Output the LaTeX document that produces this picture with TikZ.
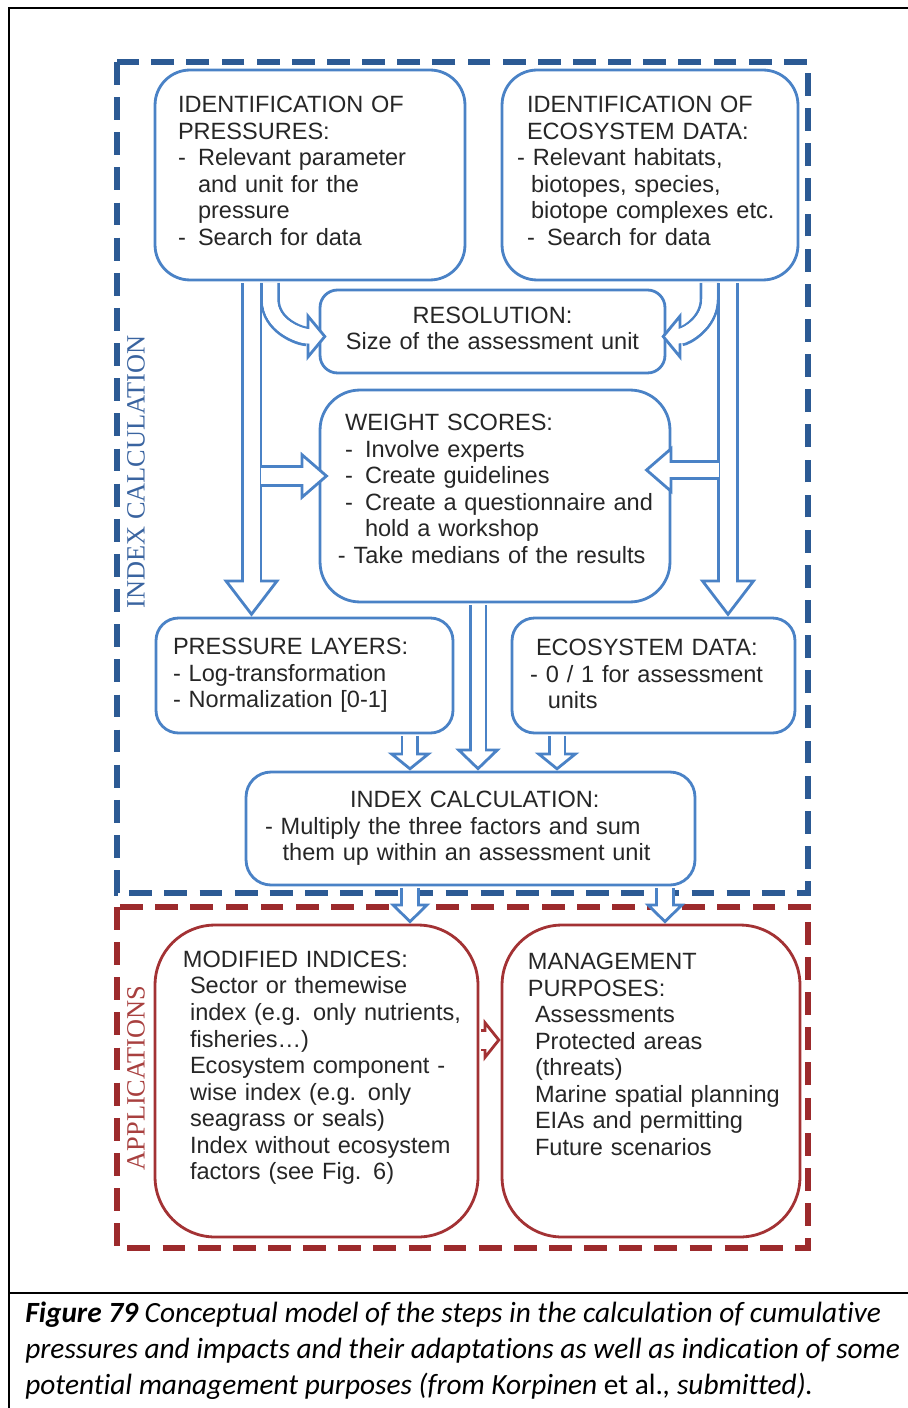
\documentclass[tikz,border=0pt]{standalone}
\usepackage{fontspec}
\setmainfont{Liberation Sans}
\newfontfamily\labfont{Liberation Serif}
\newfontfamily\capfont[Ligatures=NoCommon]{Carlito}
\usetikzlibrary{arrows.meta}

\definecolor{boxblue}{HTML}{4A82C6}
\definecolor{frameblue}{HTML}{2C5A94}
\definecolor{boxred}{HTML}{A33234}
\definecolor{framered}{HTML}{9C2A2C}
\definecolor{labblue}{HTML}{3A64A0}
\definecolor{labred}{HTML}{A8403F}

\newcommand{\dsh}{\makebox[0.85em][l]{-}}
\newcommand{\ind}{\hspace*{0.85em}}
\newcommand{\lsk}[1]{\leftskip=#1\relax}
\newcommand{\bsp}[1]{\par\kern#1\relax}

\begin{document}
\begin{tikzpicture}[
        x=0.02cm, y=-0.02cm,
        bx/.style={draw=boxblue, line width=1.6pt, rounded corners=#1, fill=white,
            align=left, inner xsep=0.15cm, text=black!85,
            font=\fontsize{13.4pt}{15.1pt}\selectfont},
        rbx/.style={bx=#1, draw=boxred},
        dashbox/.style={line width=3pt, dash pattern=on 13pt off 7pt},
        harrow/.style n args={3}{draw=boxblue, line width=1.6pt, double=white,
            double distance=#1, shorten <=0.8pt,
            -{Triangle[fill=white, line width=1.6pt, width=#2, length=#3]},
            postaction={draw=white, double=white, line width=0pt, -, shorten >=#3-2.5pt}},
        lab/.style={rotate=90, font=\labfont\fontsize{15pt}{15pt}\selectfont}
    ]
    \useasboundingbox (0,0) rectangle (908,1408);
    % page frame and caption
    \draw[line width=1.6pt] (9,1408) -- (9,8) -- (908,8);
    \draw[line width=1.6pt] (9,1293) -- (908,1293);
    \node[anchor=north west, inner sep=0, align=left,
        font=\capfont\itshape\fontsize{16.7pt}{20.5pt}\selectfont] (capt) at (25,1302)
        {\textbf{Figure 79} Conceptual model of the steps in the calculation of cumulative\\
        pressures and impacts and their adaptations as well as indication of some\\
        potential management purposes (from Korpinen {\upshape et al.}, submitted).};

    % the two groups
    \draw[dashbox, frameblue] (117,62) rectangle (808,893);
    \draw[dashbox, framered] (117,907) rectangle (808,1248);
    \node[lab, text=labblue] (labic) at (136,472) {INDEX CALCULATION};
    \node[lab, text=labred] (labap) at (136,1078) {APPLICATIONS};

    % boxes
    \node[bx=0.7cm, text width=5.9cm, minimum height=4.2cm] (idp) at (310,175)
        {\lsk{0.31cm}IDENTIFICATION OF\\ PRESSURES:\\ \dsh Relevant parameter\\
        \ind and unit for the\\ \ind pressure\\ \dsh Search for data\bsp{0.16cm}};
    \node[bx=0.7cm, text width=5.62cm, minimum height=4.2cm] (ide) at (650,175)
        {\lsk{0.35cm}IDENTIFICATION OF\\ ECOSYSTEM DATA:\\
        \hspace*{-0.42em}- Relevant habitats,\\ \hspace*{0.17em}biotopes, species,\\
        \hspace*{0.17em}biotope complexes etc.\\ \dsh Search for data\bsp{0.16cm}};
    \node[bx=0.35cm, text width=6.6cm, minimum height=1.66cm, align=center] (res) at (492.5,331.5)
        {RESOLUTION:\\ Size of the assessment unit\bsp{0.12cm}};
    \node[bx=0.8cm, text width=6.7cm, minimum height=4.24cm] (ws) at (495,496)
        {\lsk{0.35cm}WEIGHT SCORES:\\ \dsh Involve experts\\ \dsh Create guidelines\\
        \dsh Create a questionnaire and\\ \ind hold a workshop\\
        \hspace*{-0.3em}- Take medians of the results\bsp{0.28cm}};
    \node[bx=0.45cm, text width=5.64cm, minimum height=2.3cm] (pl) at (304.5,675.5)
        {\lsk{0.19cm}PRESSURE LAYERS:\\ - Log-transformation\\ - Normalization [0-1]\par};
    \node[bx=0.45cm, text width=5.36cm, minimum height=2.3cm] (ed) at (653.5,675.5)
        {\lsk{0.33cm}ECOSYSTEM DATA:\\ \hspace*{-0.25em}- 0 / 1 for assessment\\
        \hspace*{0.5em}units\bsp{0.05cm}};
    \node[bx=0.5cm, text width=8.68cm, minimum height=2.26cm] (ic) at (470.5,828.5)
        {\lsk{0.23cm}\hspace*{1.7cm}INDEX CALCULATION:\\
        - Multiply the three factors and sum\\
        \hspace*{0.75em}them up within an assessment unit\par};
    \node[rbx=1.2cm, text width=6.16cm, minimum height=6.24cm] (mi) at (316.5,1081)
        {\lsk{0.55cm}\hspace*{-0.3em}MODIFIED INDICES:\\ Sector or themewise\\
        index (e.g. only nutrients,\\ fisheries\dots)\\ Ecosystem component -\\
        wise index (e.g. only\\ seagrass or seals)\\ Index without ecosystem\\
        factors (see Fig. 6)\bsp{0.53cm}};
    \node[rbx=1.2cm, text width=5.66cm, minimum height=6.24cm] (mp) at (651,1081)
        {\lsk{0.51cm}\hspace*{-0.3em}MANAGEMENT\\ \hspace*{-0.3em}PURPOSES:\\ Assessments\\
        Protected areas\\ (threats)\\ Marine spatial planning\\ EIAs and permitting\\
        Future scenarios\bsp{1.06cm}};

    % arrows
    \draw[harrow={0.28cm}{0.96cm}{0.4cm}] ([xshift=-0.8cm]idp.south) -- ++(0,18)
        to[out=-90, in=180] ([xshift=0.16cm, yshift=-0.1cm]res.west);
    \draw[harrow={0.28cm}{0.96cm}{0.4cm}] ([xshift=1.19cm]ide.south) -- ++(0,18)
        to[out=-90, in=0] ([xshift=-0.1cm, yshift=-0.1cm]res.east);
    \draw[harrow={0.32cm}{1.12cm}{0.74cm}] ([xshift=-1.17cm]idp.south)
        -- ([xshift=-1.17cm]idp.south |- pl.north);
    \draw[harrow={0.32cm}{1.12cm}{0.74cm}] ([xshift=1.56cm]ide.south)
        -- ([xshift=1.56cm]ide.south |- ed.north);
    \coordinate (lbr) at (259.5,476);
    \coordinate (rbr) at (720,470);
    \draw[harrow={0.32cm}{0.96cm}{0.56cm}] (lbr) -- ([xshift=0.2cm]ws.west |- lbr);
    \draw[harrow={0.3cm}{0.96cm}{0.56cm}] (rbr) -- ([xshift=-0.54cm]ws.east |- rbr);
    \draw[harrow={0.26cm}{0.88cm}{0.36cm}] ([xshift=2.11cm]pl.south)
        -- ([xshift=2.11cm]pl.south |- ic.north);
    \draw[harrow={0.26cm}{0.9cm}{0.44cm}] ([xshift=-0.34cm]ws.south)
        -- ([xshift=-0.34cm]ws.south |- ic.north);
    \draw[harrow={0.26cm}{0.88cm}{0.36cm}] ([xshift=-1.93cm]ed.south)
        -- ([xshift=-1.93cm]ed.south |- ic.north);
    \draw[harrow={0.28cm}{0.8cm}{0.4cm}] ([xshift=-1.21cm]ic.south)
        -- ([xshift=-1.21cm]ic.south |- mi.north);
    \draw[harrow={0.28cm}{0.8cm}{0.4cm}] ([xshift=3.89cm]ic.south)
        -- ([xshift=3.89cm]ic.south |- mp.north);
    \draw[harrow={0.34cm}{0.84cm}{0.34cm}, draw=boxred] ([yshift=0.82cm]mi.east)
        -- ([yshift=0.82cm]mi.east -| mp.west);
\end{tikzpicture}
\end{document}
